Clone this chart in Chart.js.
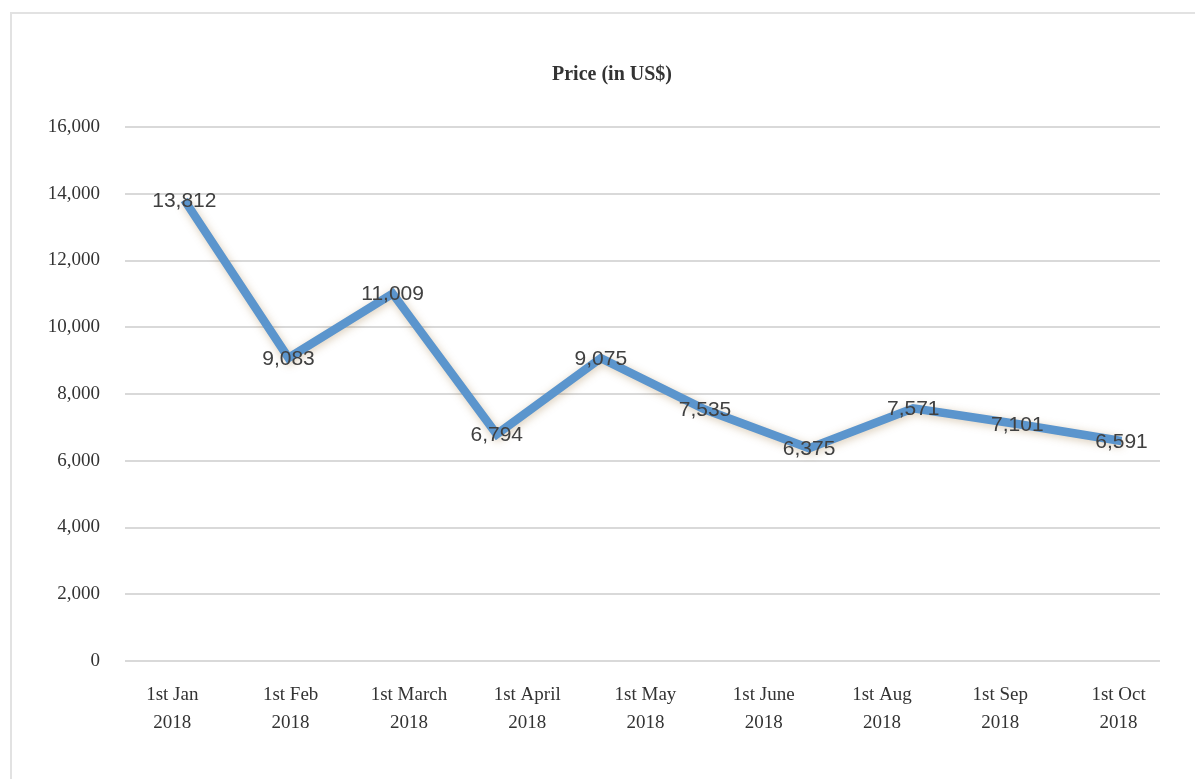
<!DOCTYPE html>
<html>
<head>
<meta charset="utf-8">
<script src="https://cdn.jsdelivr.net/npm/chart.js@4/dist/chart.umd.min.js"></script>
<style>
  html, body { margin: 0; padding: 0; background: #fff; }
  #frame { position: absolute; left: 10px; top: 12px; width: 1185px; height: 767px;
           border-top: 2px solid #e2e2e2; border-left: 2px solid #e2e2e2; box-sizing: border-box; }
  #wrap { position: absolute; left: 0; top: 0; width: 1195px; height: 779px; }
</style>
</head>
<body>
<div id="frame"></div>
<div id="wrap"><canvas id="chart" width="1195" height="779"></canvas></div>
<script>
// tick labels under the axis (9 of them, they do not sit on the points)
var dates = [
  ['1st Jan', '2018'], ['1st Feb', '2018'], ['1st March', '2018'],
  ['1st April', '2018'], ['1st May', '2018'], ['1st June', '2018'],
  ['1st Aug', '2018'], ['1st Sep', '2018'], ['1st Oct', '2018']
];
// the line has 10 points
var prices = [13812, 9083, 11009, 6794, 9075, 7535, 6375, 7571, 7101, 6591];
var yTicks = [0, 2000, 4000, 6000, 8000, 10000, 12000, 14000, 16000];
var titleText = 'Price (in US$)';

var serif = '"Liberation Serif", "DejaVu Serif", serif';

function fmt(v) {
  return v.toLocaleString('en-US');
}

// soft shadow under the line
var lineShadow = {
  id: 'lineShadow',
  beforeDatasetDraw: function(chart) {
    var ctx = chart.ctx;
    ctx.save();
    ctx.shadowColor = 'rgba(150,110,50,0.35)';
    ctx.shadowBlur = 9;
    ctx.shadowOffsetX = 1;
    ctx.shadowOffsetY = 2;
  },
  afterDatasetDraw: function(chart) {
    chart.ctx.restore();
  }
};

// value labels sitting on the points
var valueLabels = {
  id: 'valueLabels',
  afterDatasetsDraw: function(chart) {
    var ctx = chart.ctx;
    var meta = chart.getDatasetMeta(0);
    ctx.save();
    ctx.font = '21px "Liberation Sans", "DejaVu Sans", sans-serif';
    ctx.fillStyle = '#404040';
    ctx.textAlign = 'center';
    ctx.textBaseline = 'middle';
    meta.data.forEach(function(pt, i) {
      ctx.fillText(fmt(prices[i]), pt.x, pt.y + 1);
    });
    ctx.restore();
  }
};

// chart title, a little right of the canvas centre like the original
var chartTitle = {
  id: 'chartTitle',
  afterDraw: function(chart) {
    var ctx = chart.ctx;
    ctx.save();
    ctx.font = 'bold 20px ' + serif;
    ctx.fillStyle = '#333';
    ctx.textAlign = 'center';
    ctx.textBaseline = 'middle';
    ctx.fillText(titleText, 612, 75);
    ctx.restore();
  }
};

new Chart(document.getElementById('chart'), {
  type: 'line',
  data: {
    datasets: [{
      label: titleText,
      data: prices.map(function(p, i) { return { x: i, y: p }; }),
      xAxisID: 'x',
      borderColor: '#5b95cd',
      borderWidth: 8.5,
      pointRadius: 0,
      tension: 0,
      fill: false
    }]
  },
  options: {
    responsive: false,
    animation: false,
    layout: { padding: { left: 0, right: 35, top: 127, bottom: 0 } },
    plugins: {
      legend: { display: false },
      tooltip: { enabled: false },
      title: { display: false }
    },
    scales: {
      x: {
        type: 'linear',
        display: false,
        min: -0.57,
        max: 9.37
      },
      xLabels: {
        type: 'linear',
        axis: 'x',
        position: 'bottom',
        min: -0.4,
        max: 8.35,
        grid: { display: false },
        border: { display: false },
        afterFit: function(scale) { scale.height = 118; },
        afterBuildTicks: function(scale) {
          scale.ticks = dates.map(function(d, i) { return { value: i }; });
        },
        ticks: {
          autoSkip: false,
          maxRotation: 0,
          padding: 12,
          color: '#333',
          font: { family: serif, size: 19, lineHeight: 1.47 },
          callback: function(v) { return dates[v]; }
        }
      },
      y: {
        min: 0,
        max: 16000,
        afterBuildTicks: function(scale) {
          scale.ticks = yTicks.map(function(v) { return { value: v }; });
        },
        afterFit: function(scale) { scale.width = 125; },
        grid: { color: '#d9d9d9', lineWidth: 2, drawTicks: false },
        border: { display: false },
        ticks: {
          padding: 25,
          color: '#333',
          font: { family: serif, size: 19 },
          callback: function(v) { return fmt(v); }
        }
      }
    }
  },
  plugins: [lineShadow, valueLabels, chartTitle]
});
</script>
</body>
</html>
